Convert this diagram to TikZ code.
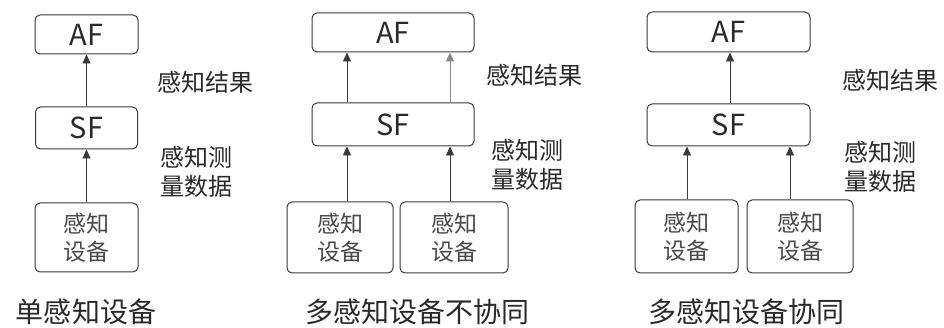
\documentclass[tikz,border=0pt]{standalone}
\usepackage{fontspec}
\setmainfont{Noto Sans CJK SC}
\usetikzlibrary{arrows.meta}
\definecolor{ln}{HTML}{3A3A3A}
\definecolor{tx}{HTML}{2A2A2A}
\tikzset{
  box/.style={draw=ln, line width=1pt, rounded corners=5pt, inner sep=0pt, text=tx},
  ftext/.style={font=\fontsize{29}{32}\selectfont},
  dtext/.style={font=\fontsize{23}{28}\selectfont, align=center, text=tx!85},
  lbl/.style={font=\fontsize{24}{29}\selectfont, align=left, text=tx, inner sep=0pt},
  ttl/.style={font=\fontsize{28}{32}\selectfont, text=tx, inner sep=0pt},
  arr/.style={draw=ln, line width=0.8pt, -{Triangle[length=9pt,width=8pt]}}
}
\begin{document}
\begin{tikzpicture}[x=1pt,y=-1pt]
\useasboundingbox (0,0) rectangle (944,328);
\fill[white] (0,0) rectangle (944,328);
% panel 1
\node[box,ftext,minimum width=103pt,minimum height=39pt] (af1) at (86.5,34.5) {AF};
\node[box,ftext,minimum width=102pt,minimum height=42pt] (sf1) at (86.5,128) {SF};
\node[box,dtext,minimum width=103pt,minimum height=69pt] (d1) at (86.5,237.5) {感知\\设备};
\draw[arr] (sf1.north) -- (af1.south);
\draw[arr] (d1.north) -- (sf1.south);
\node[lbl] (r1) at (205,82) {感知结果};
\node[lbl,anchor=north west] (m1) at (160,146) {感知测\\量数据};
\node[ttl] (t1) at (86,312) {单感知设备};
% panel 2
\node[box,ftext,minimum width=162pt,minimum height=39pt] (af2) at (393,32.5) {AF};
\node[box,ftext,minimum width=162pt,minimum height=43pt] (sf2) at (393,124.5) {SF};
\node[box,dtext,minimum width=106pt,minimum height=71pt] (d2a) at (340,237.5) {感知\\设备};
\node[box,dtext,minimum width=108pt,minimum height=71pt] (d2b) at (454,237.5) {感知\\设备};
\coordinate (p2a) at (347,0);
\coordinate (p2b) at (450,0);
\draw[arr] (sf2.north -| p2a) -- (af2.south -| p2a);
\draw[arr,draw=ln!60] (sf2.north -| p2b) -- (af2.south -| p2b);
\draw[arr] (d2a.north -| p2a) -- (sf2.south -| p2a);
\draw[arr] (d2b.north -| p2b) -- (sf2.south -| p2b);
\node[lbl] (r2) at (534,75) {感知结果};
\node[lbl,anchor=north west] (m2) at (491,139) {感知测\\量数据};
\node[ttl] (t2) at (417,312) {多感知设备不协同};
% panel 3
\node[box,ftext,minimum width=163pt,minimum height=40pt] (af3) at (728.5,32) {AF};
\node[box,ftext,minimum width=163pt,minimum height=42pt] (sf3) at (728.5,125) {SF};
\node[box,dtext,minimum width=103pt,minimum height=73pt] (d3a) at (686.5,236.5) {感知\\设备};
\node[box,dtext,minimum width=106pt,minimum height=73pt] (d3b) at (800,236.5) {感知\\设备};
\coordinate (p3a) at (687,0);
\coordinate (p3b) at (790,0);
\coordinate (p3c) at (730,0);
\draw[arr] (sf3.north -| p3c) -- (af3.south -| p3c);
\draw[arr] (d3a.north -| p3a) -- (sf3.south -| p3a);
\draw[arr] (d3b.north -| p3b) -- (sf3.south -| p3b);
\node[lbl] (r3) at (890,80) {感知结果};
\node[lbl,anchor=north west] (m3) at (844,141) {感知测\\量数据};
\node[ttl] (t3) at (746,312) {多感知设备协同};
\end{tikzpicture}
\end{document}
